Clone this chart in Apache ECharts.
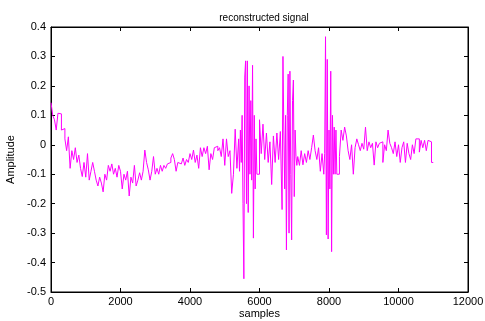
<!DOCTYPE html>
<html>
<head>
<meta charset="utf-8">
<script src="https://cdn.jsdelivr.net/npm/echarts@6/dist/echarts.min.js"></script>
<style>
html,body{margin:0;padding:0;background:#fff;}
#chart{width:485px;height:321px;}
</style>
</head>
<body>
<div id="chart"></div>
<script>
// Reconstructed signal, as consecutive pieces.
// Calm pieces are held every 50 samples, burst pieces every 25 samples.
const calmA = [ // samples 0 .. 5350
 0.143, 0.10, 0.085, 0.05, 0.107, 0.105, 0.05, 0.055, 0.02, -0.02,
 0.027, -0.08, -0.02, -0.05, -0.01, -0.06, -0.035, -0.08, -0.108, -0.06,
 -0.11, -0.03, -0.12, -0.09, -0.06, -0.09, -0.12, -0.14, -0.11, -0.13,
 -0.16, -0.10, -0.12, -0.07, -0.09, -0.065, -0.10, -0.08, -0.11, -0.07,
 -0.09, -0.15, -0.10, -0.12, -0.09, -0.174, -0.11, -0.13, -0.07, -0.14,
 -0.12, -0.095, -0.12, -0.09, -0.018, -0.06, -0.085, -0.12, -0.09, -0.04,
 -0.10, -0.08, -0.10, -0.07, -0.09, -0.07, -0.08, -0.065, -0.06, -0.045,
 -0.03, -0.05, -0.09, -0.06, -0.065, -0.06, -0.045, -0.07, -0.05, -0.06,
 -0.03, -0.05, -0.018, -0.06, -0.035, -0.08, -0.01, -0.04, -0.01, -0.03,
 -0.005, -0.085, -0.03, -0.05, -0.01, -0.005, -0.02, -0.01, -0.04, 0.02,
 -0.07, 0.02, -0.04, -0.02, -0.165, -0.10, 0.053, -0.08
];
const burst1 = [ // samples 5400 .. 5925
 0.02, -0.09, 0.05, -0.06, 0.10, -0.20, -0.455, 0.23, 0.285, -0.20,
 0.285, -0.23, 0.20, -0.10, 0.15, -0.12, 0.27, -0.317, 0.10, -0.15,
 0.02, -0.10
];
const calmB = [ // samples 5950 .. 6600
 -0.10, 0.085, -0.03, 0.07, -0.05, 0.04, -0.06, 0.01, -0.135, 0.03,
 -0.06, 0.04, -0.05, 0.045
];
const burst2 = [ // samples 6650 .. 7075
 -0.22, 0.30, 0.05, -0.15, 0.10, -0.357, 0.10, 0.24, -0.30, 0.25,
 -0.10, -0.323, 0.15, 0.22, -0.176, 0.05, -0.04, -0.07
];
const calmC = [ // samples 7100 .. 7800
 -0.04, -0.07, -0.02, -0.068, -0.03, -0.06, -0.02, -0.05, -0.01, 0.033,
 -0.02, -0.05, -0.01, -0.09, -0.03
];
const burst3 = [ // samples 7850 .. 8225
 -0.10, -0.03, 0.367, -0.306, 0.29, -0.32, 0.05, -0.15, 0.25, -0.363,
 0.10, -0.10, 0.06, -0.10, 0.05, -0.10
];
const calmD = [ // samples 8250 .. 10950
 -0.10, -0.04, 0.05, 0.015, 0.06,
 0.03, -0.02, -0.05, 0.0, -0.10, -0.01, 0.02, 0.0, -0.02, 0.005,
 -0.015, 0.06, -0.02, 0.01, -0.01, 0.005, -0.069, 0.01, -0.01, 0.005,
 0.01, -0.06, 0.0, -0.02, 0.05, 0.005, -0.01, -0.03, 0.01, -0.04,
 0.0, -0.06, -0.01, 0.01, -0.06, 0.005, -0.03, -0.05, 0.0, -0.03,
 0.02, 0.02, -0.025, 0.015, -0.01, 0.015, -0.02, 0.015, 0.01, -0.06
];
const pieceOrder = [calmA, burst1, calmB, burst2, calmC, burst3, calmD];
const pieceStep = [50, 25, 50, 25, 50, 25, 50];

const xTicks = {min: 0, max: 12000, interval: 2000};
const yTicks = {min: -0.5, max: 0.4, interval: 0.1};
const titleText = 'reconstructed signal';
const xLabel = 'samples';
const yLabel = 'Amplitude';

const points = [];
let sample = 0;
pieceOrder.forEach((vals, k) => {
  vals.forEach(v => { points.push([sample, v]); sample += pieceStep[k]; });
});
points.push([sample, points[points.length - 1][1]]);

const FONT = 'Liberation Sans, Arial, sans-serif';
const tickStyle = {show: true, inside: true, length: 4, lineStyle: {color: '#000', width: 1}};
const lineStyle = {show: true, onZero: false, lineStyle: {color: '#000', width: 1}};

const chart = echarts.init(document.getElementById('chart'), null, {renderer: 'canvas'});
chart.setOption({
  animation: false,
  backgroundColor: '#fff',
  title: {
    text: titleText, left: 259, top: 8, textAlign: 'center',
    textStyle: {fontFamily: FONT, fontSize: 10, fontWeight: 'normal', color: '#000'}
  },
  grid: {left: 51, right: 17, top: 27, bottom: 29, show: true, borderColor: '#000', borderWidth: 1,
    containLabel: false, outerBoundsMode: 'none'},
  xAxis: [{
    type: 'value', min: xTicks.min, max: xTicks.max, interval: xTicks.interval,
    position: 'bottom',
    name: xLabel, nameLocation: 'middle', nameGap: 16, nameMoveOverlap: false,
    nameTextStyle: {fontFamily: FONT, fontSize: 11, color: '#000', verticalAlign: 'top'},
    axisLine: lineStyle, axisTick: tickStyle, splitLine: {show: false},
    axisLabel: {fontFamily: FONT, fontSize: 11, color: '#000', margin: 4, formatter: v => String(v)}
  }, {
    type: 'value', min: xTicks.min, max: xTicks.max, interval: xTicks.interval,
    position: 'top', axisLine: lineStyle, axisTick: tickStyle, splitLine: {show: false},
    axisLabel: {show: false}
  }],
  yAxis: [{
    type: 'value', min: yTicks.min, max: yTicks.max, interval: yTicks.interval,
    position: 'left',
    name: yLabel, nameLocation: 'middle', nameGap: 33, nameRotate: 90,
    nameTextStyle: {fontFamily: FONT, fontSize: 11, color: '#000'},
    axisLine: lineStyle, axisTick: tickStyle, splitLine: {show: false},
    axisLabel: {fontFamily: FONT, fontSize: 11, color: '#000', margin: 5,
      formatter: v => String(Math.round(v * 10) / 10)}
  }, {
    type: 'value', min: yTicks.min, max: yTicks.max, interval: yTicks.interval,
    position: 'right', axisLine: lineStyle, axisTick: tickStyle, splitLine: {show: false},
    axisLabel: {show: false}
  }],
  series: [{
    type: 'line', xAxisIndex: 0, yAxisIndex: 0,
    data: points, step: 'end', showSymbol: false, symbol: 'none',
    lineStyle: {color: '#ff00ff', width: 1}
  }]
});
</script>
</body>
</html>
